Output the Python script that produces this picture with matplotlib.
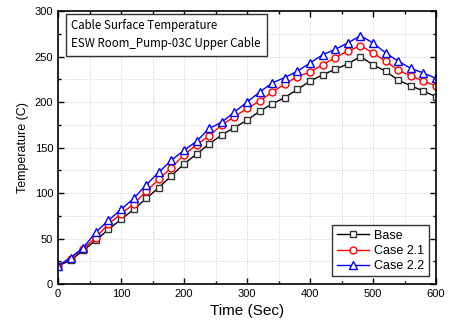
import matplotlib.pyplot as plt
from matplotlib.ticker import MultipleLocator

# time (sec)
time = list(range(0, 601, 20))

base = [20, 26, 37, 48, 60, 71, 82, 94, 106, 119, 132, 143, 154, 164, 172, 180,
        190, 198, 205, 214, 223, 230, 236, 242, 250, 241, 234, 224, 218, 212, 206]
case21 = [20, 28, 39, 51, 66, 77, 88, 102, 115, 128, 142, 153, 163, 175, 184, 193,
          201, 211, 220, 228, 233, 241, 249, 256, 262, 254, 245, 235, 229, 223, 218]
case22 = [20, 29, 40, 57, 70, 82, 94, 109, 123, 136, 147, 157, 171, 178, 189, 200,
          211, 221, 227, 234, 243, 252, 258, 265, 273, 265, 254, 245, 237, 232, 226]

labels = ['Base', 'Case 2.1', 'Case 2.2']

plt.rcParams['font.family'] = ['Liberation Sans', 'DejaVu Sans']

fig = plt.figure(figsize=(4.5, 3.27), dpi=100)
ax = fig.add_axes([0.129, 0.1315, 0.84, 0.8345])

ax.plot(time, base, color='black', marker='s', mfc='white', mec='#333333',
        ms=4.5, lw=1, mew=1, label=labels[0])
ax.plot(time, case21, color='red', marker='o', mfc='white', mec='red',
        ms=5, lw=1, mew=1, label=labels[1])
ax.plot(time, case22, color='blue', marker='^', mfc='white', mec='blue',
        ms=5.5, lw=1, mew=1, label=labels[2])

ax.set_xlim(0, 600)
ax.set_ylim(0, 300)
ax.xaxis.set_major_locator(MultipleLocator(100))
ax.xaxis.set_minor_locator(MultipleLocator(50))
ax.yaxis.set_major_locator(MultipleLocator(50))
ax.yaxis.set_minor_locator(MultipleLocator(25))
ax.tick_params(which='both', direction='in', top=True, right=True, labelsize=8, width=1)
ax.tick_params(which='major', length=4)
ax.tick_params(which='minor', length=2)
ax.grid(True, which='both', ls=':', color='#cccccc', lw=0.7)
ax.set_axisbelow(True)
for s in ax.spines.values():
    s.set_linewidth(1.2)

ax.set_xlabel('Time (Sec)', fontsize=11)
ax.set_ylabel('Temperature (C)', fontsize=9)

ax.text(0.035, 0.97, 'Cable Surface Temperature\nESW Room_Pump-03C Upper Cable',
        transform=ax.transAxes, fontsize=8.3, va='top', ha='left', linespacing=1.5,
        family=['Noto Sans CJK KR', 'DejaVu Sans'],
        bbox=dict(boxstyle='square,pad=0.5', fc='white', ec='#333333', lw=1))

leg = ax.legend(loc='lower right', fontsize=9, fancybox=False, edgecolor='#333333',
                framealpha=1, borderpad=0.35, handlelength=2.6, labelspacing=0.25,
                handletextpad=0.4, borderaxespad=0.6)
leg.get_frame().set_linewidth(1)

fig.savefig('out.png', dpi=100)
